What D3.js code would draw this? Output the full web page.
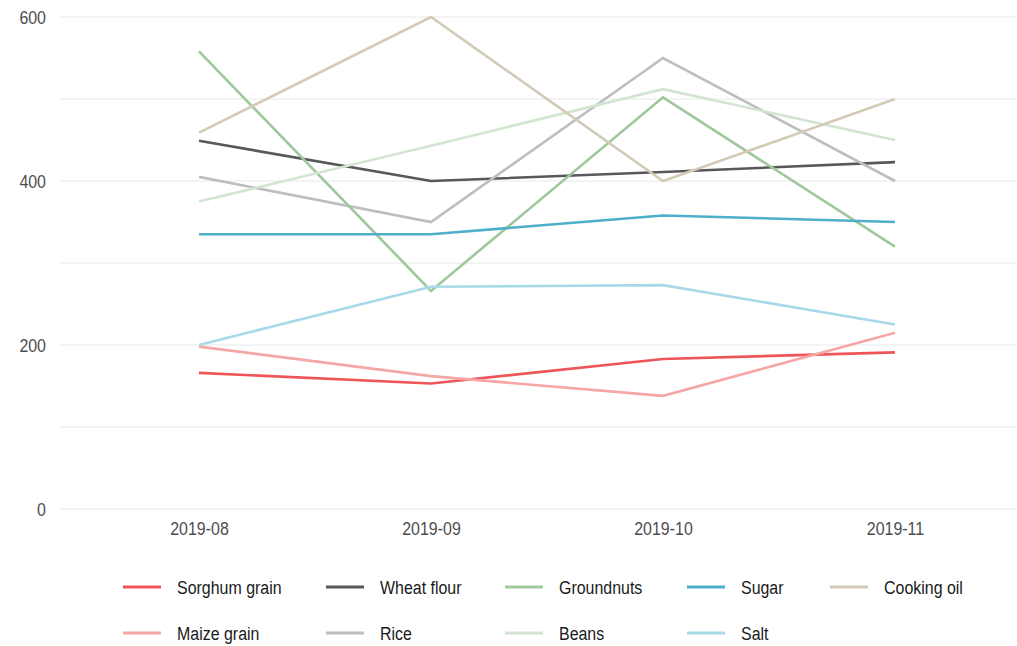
<!DOCTYPE html>
<html>
<head>
<meta charset="utf-8">
<script src="https://cdn.jsdelivr.net/npm/d3@7"></script>
<style>
  body { margin: 0; background: #fff; }
  svg text { font-family: "Liberation Sans Narrow", "Arial Narrow", "Liberation Sans", Arial, sans-serif; }
</style>
</head>
<body>
<div id="chart"></div>
<script>
/* DATA */
const months = ["2019-08", "2019-09", "2019-10", "2019-11"];
const yTicks = [0, 200, 400, 600];
const gridTicks = [0, 100, 200, 300, 400, 500, 600];

const sorghum = [166, 153, 183, 191];
const maize = [198, 162, 138, 215];
const wheat = [449, 400, 411, 423];
const rice = [405, 350, 550, 400];
const groundnuts = [558, 266, 502, 320];
const beans = [375, 443, 512, 450];
const sugar = [335, 335, 358, 350];
const salt = [200, 271, 273, 225];
const cookingOil = [459, 600, 400, 500];

// draw order (back to front) = legend column order
const series = [
  { name: "Sorghum grain", values: sorghum, color: "#ee5558" },
  { name: "Maize grain", values: maize, color: "#f6a6a5" },
  { name: "Wheat flour", values: wheat, color: "#58585a" },
  { name: "Rice", values: rice, color: "#bdbec0" },
  { name: "Groundnuts", values: groundnuts, color: "#9fc79c" },
  { name: "Beans", values: beans, color: "#d2e5d0" },
  { name: "Sugar", values: sugar, color: "#4eafcb" },
  { name: "Salt", values: salt, color: "#a8d9e7" },
  { name: "Cooking oil", values: cookingOil, color: "#d3cbb8" }
];

/* CONSTANTS */
const width = 1017, height = 646;
const fontSize = 19;
// narrow fonts are not installed, so squeeze the regular one
const squeeze = "scale(0.84,1)";

const svg = d3.select("#chart").append("svg")
  .attr("width", width)
  .attr("height", height);

const xScale = d3.scalePoint()
  .domain(months)
  .range([83, 1011])
  .padding(0.5);

const yScale = d3.scaleLinear()
  .domain([0, 600])
  .range([509, 17]);

// gridlines
svg.append("g")
  .selectAll("line")
  .data(gridTicks)
  .join("line")
  .attr("x1", 60)
  .attr("x2", width)
  .attr("y1", d => yScale(d))
  .attr("y2", d => yScale(d))
  .attr("stroke", "#e8e8e8")
  .attr("stroke-width", 1);

// y axis labels
const yAxis = d3.axisLeft(yScale).tickValues(yTicks).tickSize(0).tickPadding(0);
svg.append("g")
  .attr("transform", "translate(46,0)")
  .call(yAxis)
  .call(g => g.select(".domain").remove())
  .selectAll("text")
  .attr("font-size", fontSize)
  .attr("fill", "#4d4d4d")
  .attr("font-family", null)
  .attr("transform", squeeze);

// x axis labels
const xAxis = d3.axisBottom(xScale).tickSize(0).tickPadding(0);
svg.append("g")
  .attr("transform", "translate(0,521)")
  .call(xAxis)
  .call(g => g.select(".domain").remove())
  .selectAll("text")
  .attr("font-size", fontSize)
  .attr("fill", "#4d4d4d")
  .attr("font-family", null)
  .attr("transform", squeeze);

// lines
const line = d3.line()
  .x((d, i) => xScale(months[i]))
  .y(d => yScale(d));

svg.append("g")
  .selectAll("path")
  .data(series)
  .join("path")
  .attr("d", d => line(d.values))
  .attr("fill", "none")
  .attr("stroke", d => d.color)
  .attr("stroke-width", 2.6)
  .attr("stroke-linejoin", "miter");

// legend: 5 columns, filled column-wise
const legendCols = [123, 326, 505, 687, 830];
const legendRows = [587, 633];

const legend = svg.append("g")
  .selectAll("g")
  .data(series)
  .join("g")
  .attr("transform", (d, i) => `translate(${legendCols[Math.floor(i / 2)]},${legendRows[i % 2]})`);

legend.append("line")
  .attr("x1", 0)
  .attr("x2", 38)
  .attr("stroke", d => d.color)
  .attr("stroke-width", 3);

legend.append("text")
  .attr("transform", "translate(54,0) " + squeeze)
  .attr("dy", "0.35em")
  .attr("font-size", fontSize)
  .attr("fill", "#1a1a1a")
  .text(d => d.name);
</script>
</body>
</html>
